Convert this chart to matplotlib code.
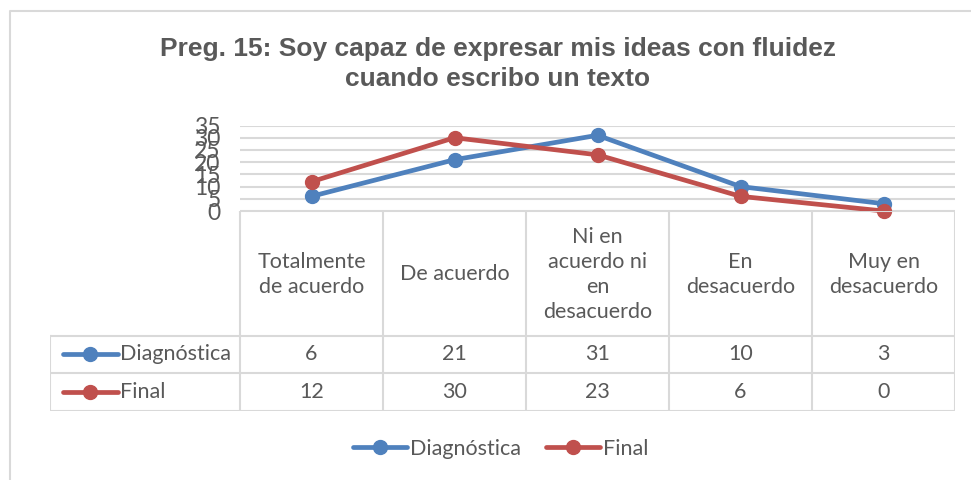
import matplotlib.pyplot as plt
from matplotlib.lines import Line2D

categorias = ["Totalmente\nde acuerdo", "De acuerdo", "Ni en\nacuerdo ni\nen\ndesacuerdo",
              "En\ndesacuerdo", "Muy en\ndesacuerdo"]
diagnostica = [6, 21, 31, 10, 3]
final = [12, 30, 23, 6, 0]
series = ["Diagnóstica", "Final"]
colores = ["#4F81BD", "#C0504D"]
titulo = "Preg. 15: Soy capaz de expresar mis ideas con fluidez\ncuando escribo un texto"

W, H = 971, 480
gris = "#595959"
linea = "#D9D9D9"
fuente = ["Lato", "DejaVu Sans"]
fs = 15.5


def fx(px):
    return px / W


def fy(py):
    return 1 - py / H


fig = plt.figure(figsize=(W / 100, H / 100), dpi=100)

# marco del grafico (solo arriba e izquierda quedan a la vista)
fig.add_artist(Line2D([fx(10), fx(10), 1], [0, fy(11), fy(11)], transform=fig.transFigure,
                      color=linea, lw=1.5))

fig.text(fx(498), fy(64), titulo, ha="center", va="center", fontsize=19, fontweight="bold",
         color=gris, family="Liberation Sans", linespacing=1.3)

# area de trazado
x0, x1 = 240, 955
ytop, ybot = 125.5, 211
ax = fig.add_axes([fx(x0), fy(ybot), fx(x1 - x0), (ybot - ytop) / H])
xs = list(range(len(categorias)))
ax.set_xlim(-0.5, len(categorias) - 0.5)
ax.set_ylim(0, 35)
ax.set_yticks(range(0, 36, 5))
ax.set_xticks([])
ax.grid(axis="y", color=linea, lw=1.5)
ax.set_axisbelow(True)
for s in ax.spines.values():
    s.set_visible(False)
ax.tick_params(axis="y", length=0, pad=14, labelsize=fs + 1, labelcolor=gris)
for lab in ax.get_yticklabels():
    lab.set_family(fuente)
for vals, c, nombre in zip([diagnostica, final], colores, series):
    ax.plot(xs, vals, color=c, lw=3.4, marker="o", markersize=10, label=nombre,
            solid_capstyle="round", clip_on=False, zorder=3)

# tabla de datos
col_w = (x1 - x0) / len(categorias)
left = 50
r_head, r1, r2, r3 = 211, 336, 373, 411
tab = fig.add_axes([fx(left), fy(r3), fx(x1 - left), (r3 - r_head) / H])
tab.set_xlim(-0.5 - (x0 - left) / col_w, len(categorias) - 0.5)
tab.set_ylim(r3, r_head)
tab.axis("off")
tab.patch.set_alpha(0)

lx = -0.5 - (x0 - left) / col_w
tab.plot([-0.5, len(categorias) - 0.5], [r_head, r_head], color=linea, lw=1.5)
for yy in [r1, r2, r3]:
    tab.plot([lx, len(categorias) - 0.5], [yy, yy], color=linea, lw=1.5)
for i in range(len(categorias) + 1):
    tab.plot([i - 0.5, i - 0.5], [r_head, r3], color=linea, lw=1.5)
tab.plot([lx, lx], [r1, r3], color=linea, lw=1.5)

for i, cat in enumerate(categorias):
    tab.text(i, (r_head + r1) / 2 + 1, cat, ha="center", va="center", fontsize=fs, color=gris,
             family=fuente, linespacing=1.3)
for (ya, yb), vals, c, nombre in zip([(r1, r2), (r2, r3)], [diagnostica, final], colores, series):
    ym = (ya + yb) / 2
    for i, v in enumerate(vals):
        tab.text(i, ym, str(v), ha="center", va="center", fontsize=fs, color=gris, family=fuente)
    u = 1 / col_w
    tab.plot([lx + 13 * u, lx + 68 * u], [ym, ym], color=c, lw=3.4, solid_capstyle="round")
    tab.plot([lx + 40 * u], [ym], marker="o", color=c, markersize=10)
    tab.text(lx + 70 * u, ym, nombre, ha="left", va="center", fontsize=fs, color=gris, family=fuente)

# leyenda
handles = [Line2D([], [], color=c, lw=3.4, marker="o", markersize=10, solid_capstyle="round")
           for c in colores]
fig.legend(handles, series, loc="center", bbox_to_anchor=(fx(501), fy(449)), ncol=2, frameon=False,
           prop={"family": fuente, "size": fs}, labelcolor=gris, handlelength=2.5,
           handletextpad=0.15, columnspacing=1.15)

fig.savefig("out.png", dpi=100)
